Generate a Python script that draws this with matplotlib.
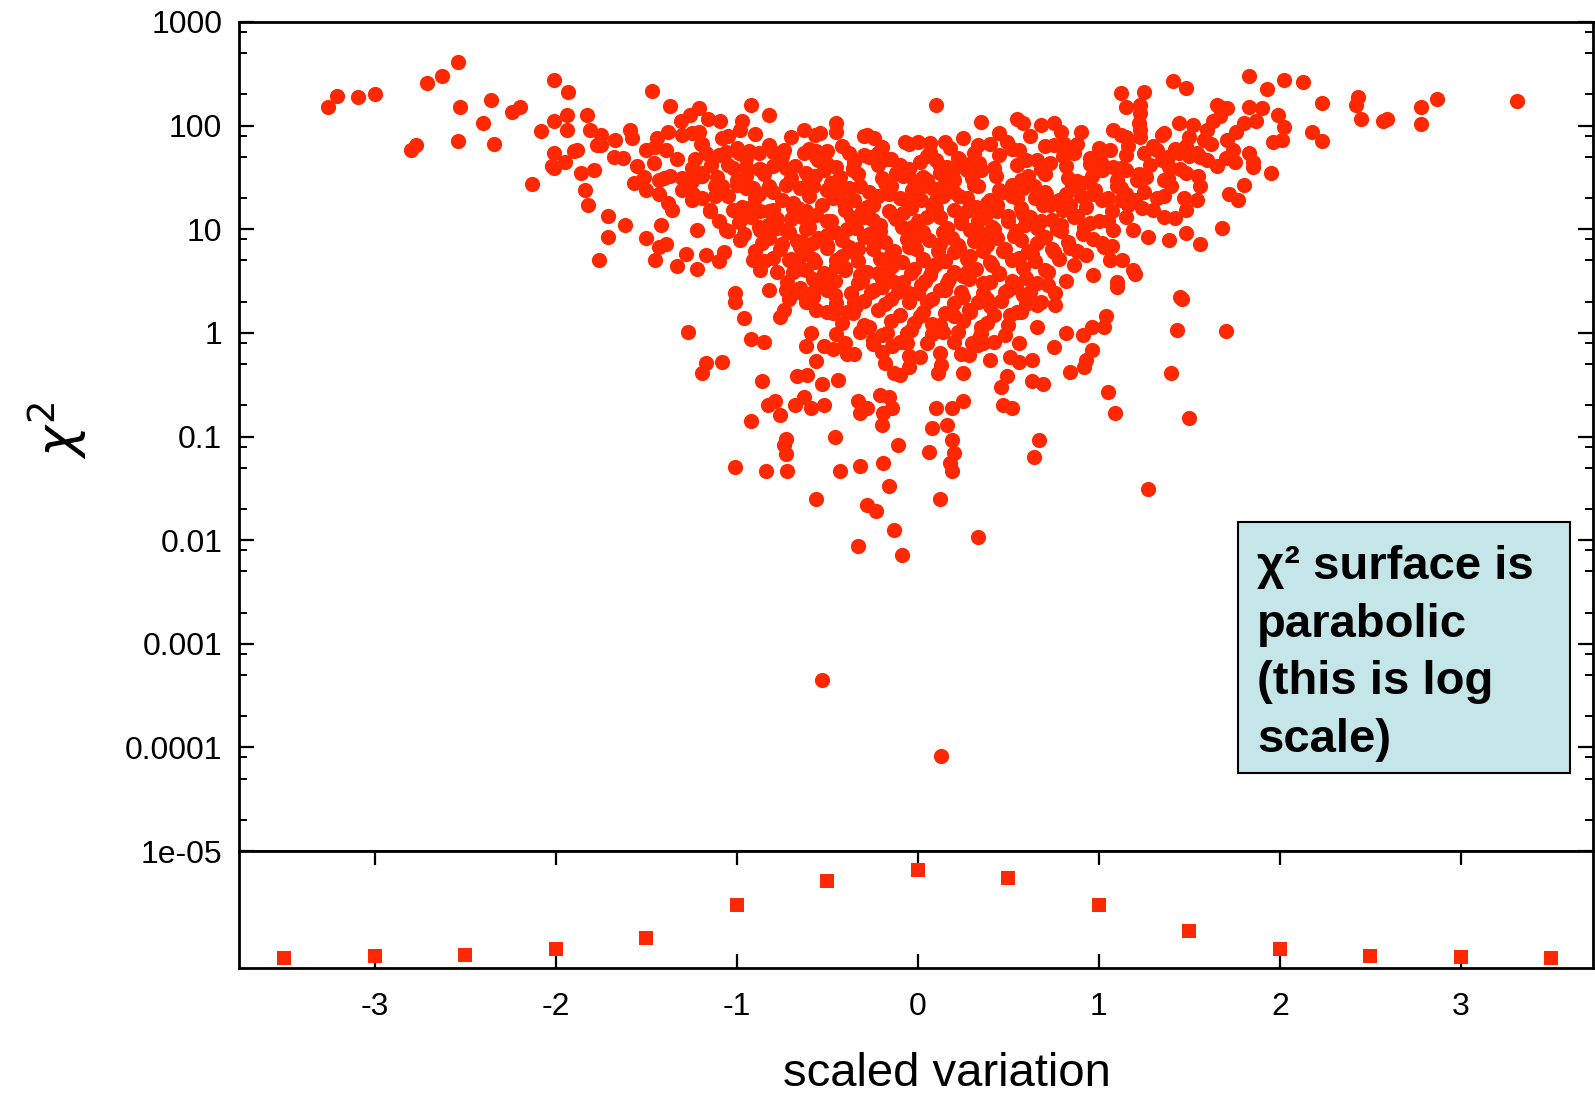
import matplotlib.pyplot as plt
import numpy as np
from matplotlib.patches import Rectangle
from matplotlib.ticker import FixedLocator, FixedFormatter, NullFormatter

plt.rcParams['font.family'] = ['Liberation Sans', 'DejaVu Sans']
plt.rcParams['axes.unicode_minus'] = False

# (scaled variation, chi2)
left_wing = [(-3.26, 152), (-3.21, 195), (-3.09, 187), (-3.00, 200), (-2.80, 58), (-2.77, 65),
             (-2.71, 260), (-2.63, 300), (-2.54, 410), (-2.53, 150), (-2.54, 71), (-2.40, 107),
             (-2.36, 178), (-2.34, 67), (-2.24, 135), (-2.20, 152), (-2.13, 27.5), (-2.08, 88),
             (-2.01, 275), (-1.93, 210), (-2.01, 112), (-1.94, 128), (-1.94, 91), (-2.01, 55),
             (-2.02, 41), (-2.01, 39), (-1.95, 45), (-1.90, 57), (-1.88, 58), (-1.83, 126),
             (-1.81, 91), (-1.86, 35), (-1.84, 24), (-1.82, 17), (-1.79, 37), (-1.76, 5.0),
             (-1.77, 65), (-1.47, 217), (-1.37, 154), (-1.75, 81), (-1.75, 65), (-1.67, 72),
             (-1.59, 91), (-1.58, 76), (-1.68, 50), (-1.63, 49), (-1.71, 13.5), (-1.62, 11),
             (-1.71, 8.5), (-1.50, 8.2), (-1.42, 11), (-1.43, 6.8), (-1.39, 7.2), (-1.45, 5.0),
             (-1.33, 4.4), (-1.28, 5.8), (-1.22, 4.1), (-1.17, 5.6), (-1.22, 9.8), (-1.15, 15),
             (-1.10, 4.9), (-1.07, 6.0), (-1.06, 9.8), (-1.01, 2.4), (-1.01, 2.0), (-0.96, 8.9),
             (-0.91, 5.0), (-0.87, 4.0), (-0.82, 2.6), (-0.99, 11.7)]

upper_left = [(-1.57, 28), (-1.51, 32), (-1.43, 30), (-1.37, 33), (-1.30, 31), (-1.25, 29),
              (-1.19, 33), (-1.50, 58), (-1.44, 76), (-1.38, 87), (-1.39, 58), (-1.46, 44),
              (-1.43, 22), (-1.38, 18), (-1.36, 15.4), (-1.50, 24), (-1.31, 112), (-1.26, 126),
              (-1.21, 147), (-1.16, 117), (-1.09, 112), (-1.08, 76), (-0.98, 91), (-0.97, 112),
              (-0.92, 158), (-0.82, 126), (-1.30, 81), (-1.21, 87), (-1.19, 67), (-1.23, 48),
              (-1.17, 54), (-1.14, 42), (-1.19, 35), (-1.11, 32), (-1.24, 22), (-1.19, 20),
              (-1.12, 21), (-1.06, 56), (-0.99, 55), (-0.93, 57), (-0.88, 54), (-0.80, 56),
              (-0.74, 58), (-0.63, 55), (-0.56, 57), (-1.02, 39), (-0.95, 40), (-0.87, 38),
              (-0.80, 41), (-0.73, 39), (-1.08, 26), (-1.00, 27), (-0.91, 25), (-0.82, 26),
              (-0.73, 27), (-0.65, 25), (-0.58, 26), (-1.02, 15.5), (-0.93, 16), (-0.87, 15),
              (-0.80, 15.5), (-0.69, 16), (-0.62, 15), (-0.87, 9.8), (-0.78, 10.2), (-0.71, 9.5),
              (-0.62, 10), (-0.86, 7.4), (-0.75, 7.2), (-0.64, 7.6), (-0.58, 7.3), (-0.80, 5.3),
              (-0.71, 5.1), (-0.65, 5.4), (-0.58, 5.2), (-0.69, 3.9), (-0.62, 4.0), (-0.73, 2.6),
              (-0.65, 2.7), (-0.58, 2.5), (-0.71, 2.1), (-0.62, 2.0), (-0.58, 2.2), (-0.63, 91),
              (-0.57, 81), (-0.56, 50)]

middle = [(0.10, 158), (-0.28, 81), (-0.24, 76), (-0.07, 69), (0.00, 70), (0.07, 68), (0.15, 69),
          (0.58, 105), (0.68, 102), (0.75, 105), (0.79, 87), (1.08, 91), (1.12, 81), (1.25, 213),
          (1.23, 158), (1.22, 105), (1.23, 78), (0.40, 67), (0.49, 70), (0.56, 58), (0.66, 47),
          (0.75, 65), (0.81, 67), (0.86, 54), (0.99, 50), (1.06, 58), (1.02, 37), (1.08, 40),
          (1.10, 26), (-0.38, 54), (-0.45, 40), (-0.52, 37), (-0.36, 37), (-0.27, 50), (-0.17, 48),
          (-0.12, 35), (-0.06, 37), (0.01, 45), (0.10, 47), (0.16, 40), (0.23, 48), (0.31, 54),
          (0.03, 32), (0.12, 35), (0.20, 30), (0.27, 37), (0.35, 37), (-0.54, 85), (-0.50, 57),
          (-0.43, 32), (-0.45, 105), (0.35, 108), (0.55, 115),
          (-0.50, 24), (-0.41, 18), (-0.32, 26), (-0.25, 17), (-0.16, 22), (-0.06, 19), (0.01, 25),
          (0.10, 16), (0.23, 21), (0.31, 27), (0.38, 18), (0.47, 23), (0.55, 20), (0.64, 26),
          (0.73, 17), (0.82, 22), (0.91, 28), (1.02, 19),
          (-0.48, 12), (-0.39, 10), (-0.30, 13), (-0.21, 11), (-0.12, 12.5), (-0.03, 10.5), (0.05, 13),
          (0.14, 9.5), (0.24, 11.5), (0.33, 12), (0.42, 10), (0.50, 13.5), (0.59, 11), (0.68, 12),
          (0.77, 10), (0.86, 13), (0.95, 11.5), (1.05, 12),
          (-0.50, 7), (-0.42, 5.5), (-0.33, 6.5), (-0.24, 7.5), (-0.15, 5.8), (-0.05, 6.8), (0.03, 5.2),
          (0.12, 7.2), (0.20, 6.0), (0.29, 5.5), (0.38, 7.0), (0.47, 6.2), (0.56, 5.3), (0.66, 7.3),
          (0.75, 6.0), (0.84, 6.6), (0.93, 5.6), (1.07, 6.9),
          (-0.49, 3.5), (-0.40, 4.0), (-0.31, 3.2), (-0.22, 3.8), (-0.13, 3.1), (-0.02, 4.1), (0.07, 3.6),
          (0.17, 3.3), (0.27, 3.9), (0.36, 3.0), (0.45, 3.7), (0.60, 3.4), (0.70, 4.0), (0.82, 3.2),
          (0.97, 3.6), (1.10, 3.1),
          (-0.46, 2.3), (-0.35, 2.0), (-0.26, 2.5), (-0.15, 2.1), (-0.05, 2.4), (0.05, 2.0), (0.15, 2.6),
          (0.25, 2.2), (0.38, 2.1), (0.48, 2.5), (0.58, 2.3), (0.68, 2.0), (0.76, 2.4)]

core = [(-1.25, 84), (-1.05, 79), (-0.90, 83), (-0.70, 78), (-0.45, 86), (-0.30, 80), (0.25, 76),
        (0.45, 84), (0.62, 79), (0.90, 86), (1.35, 82), (1.50, 77),
        (-1.45, 62), (-1.20, 66), (-1.00, 61), (-0.82, 65), (-0.60, 60), (-0.42, 64), (-0.20, 62),
        (-0.05, 66), (0.18, 61), (0.33, 65), (0.52, 60), (0.70, 63), (0.88, 66), (1.00, 61),
        (1.30, 64), (1.42, 60), (1.62, 66),
        (-1.33, 48), (-1.10, 52), (-0.95, 49), (-0.75, 51), (-0.55, 47), (-0.30, 52), (-0.15, 48),
        (0.05, 51), (0.22, 49), (0.45, 52), (0.60, 47), (0.80, 51), (0.95, 49), (1.15, 52),
        (1.35, 47), (1.50, 51), (1.70, 49), (1.85, 45),
        (-1.55, 41), (-1.25, 39), (-1.05, 42), (-0.88, 38), (-0.68, 41), (-0.50, 43), (-0.36, 39),
        (-0.22, 42), (-0.05, 38), (0.12, 41), (0.28, 43), (0.42, 39), (0.55, 42), (0.68, 38),
        (0.82, 41), (0.95, 43), (1.12, 39), (1.28, 42), (1.45, 38), (1.65, 41),
        (-1.40, 31), (-1.20, 33), (-1.00, 30), (-0.85, 34), (-0.70, 31), (-0.57, 33), (-0.44, 30),
        (-0.33, 34), (-0.20, 31), (-0.08, 33), (0.05, 30), (0.17, 34), (0.30, 31), (0.43, 33),
        (0.57, 30), (0.70, 34), (0.83, 31), (0.96, 33), (1.10, 30), (1.22, 34), (1.38, 31), (1.55, 33),
        (-1.30, 24), (-1.12, 26), (-0.95, 25), (-0.80, 23), (-0.62, 26), (-0.50, 24), (-0.38, 25),
        (-0.27, 23), (-0.15, 26), (-0.03, 24), (0.08, 25), (0.20, 23), (0.33, 26), (0.45, 24),
        (0.58, 25), (0.70, 23), (0.85, 26), (0.98, 24), (1.12, 25), (1.25, 23), (1.40, 26),
        (-1.25, 19), (-1.05, 21), (-0.90, 20), (-0.75, 19), (-0.60, 21), (-0.47, 20), (-0.35, 19),
        (-0.22, 21), (-0.10, 20), (0.02, 19), (0.14, 21), (0.27, 20), (0.40, 19), (0.52, 21),
        (0.65, 20), (0.78, 19), (0.90, 21), (1.05, 20), (1.20, 19), (1.36, 21),
        (-1.15, 15.5), (-0.97, 16.5), (-0.82, 15), (-0.66, 16), (-0.53, 17), (-0.40, 15.5),
        (-0.28, 16.5), (-0.16, 15), (-0.04, 16), (0.08, 17), (0.20, 15.5), (0.32, 16.5), (0.44, 15),
        (0.57, 16), (0.69, 17), (0.80, 15.5), (0.93, 16.5), (1.07, 15), (1.24, 16),
        (-1.10, 12), (-0.92, 13), (-0.78, 12.5), (-0.64, 13.2), (-0.50, 12), (-0.37, 13), (-0.25, 12.2),
        (-0.13, 13.4), (0.00, 12), (0.12, 13), (0.24, 12.4), (0.37, 13.2), (0.50, 12), (0.62, 13),
        (0.74, 12.3), (0.88, 13.3), (1.00, 12), (1.15, 13),
        (-1.05, 9.6), (-0.88, 10.4), (-0.73, 9.8), (-0.60, 10.5), (-0.46, 9.5), (-0.34, 10.3),
        (-0.21, 9.7), (-0.09, 10.6), (0.03, 9.5), (0.16, 10.2), (0.29, 9.8), (0.41, 10.5), (0.54, 9.6),
        (0.66, 10.3), (0.79, 9.7), (0.92, 10.4), (1.08, 9.8),
        (-0.98, 7.8), (-0.82, 8.3), (-0.67, 7.7), (-0.55, 8.2), (-0.42, 7.9), (-0.30, 8.4), (-0.18, 7.6),
        (-0.06, 8.1), (0.06, 7.8), (0.19, 8.3), (0.31, 7.7), (0.44, 8.2), (0.57, 7.9), (0.70, 8.4),
        (0.83, 7.6), (0.97, 8.1),
        (-0.90, 6.2), (-0.76, 6.5), (-0.62, 6.1), (-0.50, 6.6), (-0.37, 6.2), (-0.25, 6.4), (-0.13, 6.1),
        (-0.01, 6.5), (0.11, 6.2), (0.23, 6.6), (0.36, 6.1), (0.48, 6.4), (0.61, 6.2), (0.74, 6.5),
        (0.88, 6.1),
        (-0.85, 4.9), (-0.70, 5.2), (-0.57, 4.8), (-0.45, 5.1), (-0.33, 4.9), (-0.21, 5.2), (-0.09, 4.8),
        (0.03, 5.1), (0.15, 4.9), (0.27, 5.2), (0.40, 4.8), (0.52, 5.1), (0.65, 4.9), (0.78, 5.2),
        (-0.78, 3.9), (-0.64, 4.1), (-0.52, 3.8), (-0.40, 4.2), (-0.28, 3.9), (-0.16, 4.1), (-0.04, 3.8),
        (0.08, 4.2), (0.20, 3.9), (0.32, 4.1), (0.45, 3.8), (0.58, 4.2), (0.72, 3.9),
        (-0.72, 3.1), (-0.58, 3.3), (-0.46, 3.2), (-0.33, 3.0), (-0.20, 3.3), (-0.08, 3.1), (0.04, 3.2),
        (0.16, 3.0), (0.28, 3.3), (0.40, 3.1), (0.52, 3.2), (0.66, 3.0),
        (-0.66, 2.5), (-0.50, 2.6), (-0.37, 2.4), (-0.24, 2.6), (-0.11, 2.5), (0.00, 2.4), (0.12, 2.6),
        (0.24, 2.5), (0.36, 2.4), (0.50, 2.6), (0.62, 2.5),
        (-0.60, 2.0), (-0.45, 1.95), (-0.30, 2.05), (-0.18, 1.9), (-0.05, 2.0), (0.08, 2.1), (0.20, 1.95),
        (0.33, 2.0), (0.46, 2.05), (0.60, 1.9),
        (-0.50, 1.6), (-0.36, 1.55), (-0.22, 1.65), (-0.10, 1.5), (0.03, 1.6), (0.15, 1.55), (0.28, 1.65),
        (0.42, 1.5), (0.55, 1.6),
        (-0.42, 1.25), (-0.30, 1.2), (-0.15, 1.3), (-0.02, 1.25), (0.12, 1.2), (0.25, 1.3), (0.38, 1.25),
        (0.50, 1.2),
        (-0.45, 0.98), (-0.32, 1.02), (-0.20, 0.96), (-0.06, 1.0), (0.08, 0.97), (0.22, 1.03), (0.35, 0.99),
        (0.48, 0.95),
        (-0.40, 0.8), (-0.25, 0.78), (-0.10, 0.82), (0.05, 0.79), (0.20, 0.81), (0.33, 0.77),
        (-0.35, 0.62), (-0.20, 0.65), (-0.05, 0.60), (0.12, 0.64), (0.28, 0.61)]

core_fill = [(0.34, 44), (0.52, 27), (0.61, 33), (0.73, 44), (0.88, 29), (1.01, 45), (0.44, 17),
             (0.58, 14), (0.71, 22), (0.84, 17), (0.97, 22), (1.12, 19), (0.36, 8.9), (0.53, 8.7),
             (0.79, 11), (0.91, 9), (1.02, 7.3), (0.63, 5.8), (0.41, 4.5), (0.86, 4.5), (0.72, 2.9),
             (0.54, 2.8), (-0.95, 33), (-0.77, 45), (-0.62, 35), (-0.48, 28), (-0.35, 45), (-0.88, 22),
             (-0.69, 18), (-0.56, 13.8), (-0.43, 22), (-0.31, 15), (-0.96, 13), (-0.83, 11), (-0.70, 12.5),
             (-0.50, 8.8), (-0.38, 6.8), (-0.27, 8.9), (-0.65, 6.8), (-0.45, 4.4), (-0.32, 3.6), (-0.55, 2.9),
             (-0.22, 55), (-0.10, 42), (0.07, 56), (0.20, 38), (-0.18, 28), (-0.02, 29), (0.14, 26),
             (0.27, 15), (-0.08, 14.5), (0.10, 19), (-0.23, 9), (0.00, 8.7), (0.22, 7), (-0.14, 4.4),
             (0.10, 4.6), (0.25, 3.5), (-0.20, 2.8), (0.02, 2.9)]

right_wing = [(1.41, 270), (1.48, 232), (1.83, 300), (1.93, 224), (2.02, 275), (2.13, 262), (2.23, 166),
              (2.43, 187), (2.42, 158), (2.45, 116), (2.57, 112), (2.59, 117), (2.78, 151), (2.78, 103),
              (2.87, 182), (3.31, 174), (2.18, 86), (2.23, 71), (1.12, 205), (1.15, 151), (1.23, 131),
              (1.23, 91), (1.15, 78), (1.16, 63), (1.65, 158), (1.71, 147), (1.67, 123), (1.83, 151),
              (1.90, 147), (1.87, 110), (1.99, 126), (2.02, 98), (1.96, 69), (2.01, 72), (1.80, 105),
              (1.76, 87), (1.71, 72), (1.74, 58), (1.75, 45), (1.83, 54), (1.85, 40), (1.95, 35),
              (1.80, 27), (1.72, 22), (1.77, 19), (1.68, 10.2), (1.56, 7.2), (1.48, 9.3), (1.39, 7.8),
              (1.45, 2.2), (1.19, 4.0), (1.13, 5.0), (1.19, 9.8), (1.27, 8.5), (1.32, 20), (1.30, 15.4),
              (1.36, 13.2), (1.42, 12.7), (1.48, 15.4), (1.54, 19), (1.56, 26), (1.47, 20), (1.26, 32),
              (1.36, 30), (1.48, 35), (1.39, 40), (1.56, 50), (1.60, 47), (1.25, 54), (1.32, 58),
              (1.38, 50), (1.44, 54), (1.48, 63), (1.54, 54), (1.58, 72), (1.36, 85), (1.44, 105),
              (1.52, 102), (1.60, 91), (1.63, 112), (1.67, 151), (1.15, 37), (1.21, 30), (1.15, 22),
              (1.16, 17), (1.70, 1.05), (1.20, 3.7), (1.10, 2.8), (1.06, 5.0), (1.03, 6.8), (1.46, 2.1)]

lower_tail = [(-1.27, 1.02), (-1.17, 0.51), (-1.19, 0.41), (-1.08, 0.52), (-0.96, 1.4), (-0.92, 0.87),
              (-0.85, 0.82), (-0.86, 0.34), (-0.83, 0.20), (-0.79, 0.22), (-0.76, 0.16), (-0.92, 0.14),
              (-0.73, 0.095), (-0.74, 0.083), (-0.73, 0.068), (-1.01, 0.051), (-0.84, 0.046),
              (-0.72, 0.046), (-0.56, 0.025), (-0.67, 0.38), (-0.61, 0.39), (-0.53, 0.32), (-0.44, 0.35),
              (-0.68, 0.20), (-0.63, 0.24), (-0.59, 0.19), (-0.52, 0.20), (-0.46, 0.10), (-0.43, 0.046),
              (-0.32, 0.052), (-0.19, 0.055), (-0.16, 0.033), (-0.28, 0.022), (-0.23, 0.019),
              (-0.13, 0.0126), (-0.33, 0.22), (-0.28, 0.19), (-0.32, 0.17), (-0.21, 0.25), (-0.16, 0.24),
              (-0.19, 0.17), (-0.20, 0.13), (-0.14, 0.19), (-0.11, 0.083), (-0.62, 0.74), (-0.59, 1.0),
              (-0.56, 0.53), (-0.52, 0.74), (-0.47, 0.70), (-0.39, 0.63), (-0.47, 1.55), (-0.39, 1.6),
              (-0.34, 1.8), (-0.56, 1.65), (-0.76, 1.43), (-0.74, 1.65), (-0.27, 1.15), (-0.25, 0.85),
              (-0.17, 1.0), (-0.14, 0.74), (-0.18, 0.51), (-0.13, 0.41),
              (0.66, 1.15), (0.82, 1.0), (0.91, 0.96), (0.96, 1.15), (1.04, 1.44), (1.03, 1.15),
              (0.56, 0.79), (0.75, 0.73), (0.96, 0.69), (0.93, 0.55), (0.92, 0.47), (0.84, 0.42),
              (1.43, 1.07), (1.40, 0.41), (1.05, 0.27), (1.09, 0.17), (1.50, 0.15), (1.27, 0.031),
              (0.67, 0.093), (0.64, 0.063), (0.63, 0.34), (0.69, 0.32), (0.46, 0.30), (0.49, 0.38),
              (0.47, 0.20), (0.52, 0.19), (0.51, 0.59), (0.56, 0.52), (0.63, 0.55), (0.40, 0.55),
              (0.36, 0.79), (0.42, 0.82), (0.10, 0.19), (0.19, 0.19), (0.25, 0.22), (0.08, 0.12),
              (0.16, 0.13), (0.19, 0.093), (0.06, 0.071), (0.20, 0.069), (0.18, 0.055), (0.19, 0.046),
              (0.12, 0.025), (0.33, 0.0107), (0.11, 0.41), (0.25, 0.41), (0.13, 0.49), (0.24, 0.62),
              (0.35, 1.15), (0.29, 1.6), (0.20, 1.44), (0.14, 1.02), (0.08, 1.23), (0.01, 1.44),
              (-0.04, 1.07), (-0.06, 0.79), (0.01, 0.59), (-0.05, 0.47), (-0.10, 0.39), (0.40, 1.8),
              (0.51, 1.48), (0.57, 1.6), (0.66, 1.86), (0.76, 1.86), (0.34, 0.89), (0.30, 0.79),
              (-0.53, 0.00045), (0.13, 8.3e-5), (-0.33, 0.0087), (-0.09, 0.0072)]

# lower panel: binned distribution of the scan (relative height)
bin_x = [-3.5, -3.0, -2.5, -2.0, -1.5, -1.0, -0.5, 0.0, 0.5, 1.0, 1.5, 2.0, 2.5, 3.0, 3.5]
bin_h = [0.087, 0.104, 0.113, 0.165, 0.26, 0.54, 0.74, 0.84, 0.77, 0.54, 0.32, 0.165, 0.104, 0.096, 0.087]

y_ticks = [1e-5, 1e-4, 1e-3, 1e-2, 1e-1, 1, 10, 100, 1000]
y_labels = ['1e-05', '0.0001', '0.001', '0.01', '0.1', '1', '10', '100', '1000']
x_ticks = [-3, -2, -1, 0, 1, 2, 3]

red = '#ff2800'
pts = left_wing + upper_left + middle + core + core_fill + right_wing + lower_tail
xs = np.array([p[0] for p in pts])
ys = np.array([p[1] for p in pts])

fig = plt.figure(figsize=(15.95, 10.94), dpi=100)
ax = fig.add_axes([0.1498, 0.2221, 0.849, 0.7578])
ax2 = fig.add_axes([0.1498, 0.1152, 0.849, 0.1069])

ax.scatter(xs, ys, s=120, c=red, linewidths=0, zorder=2)
ax.set_yscale('log')
ax.set_ylim(1e-5, 1000)
ax.set_xlim(-3.75, 3.73)
ax.yaxis.set_major_locator(FixedLocator(y_ticks))
ax.yaxis.set_major_formatter(FixedFormatter(y_labels))
minors = [m * 10.0 ** k for k in range(-5, 3) for m in (2, 5, 8)]
ax.yaxis.set_minor_locator(FixedLocator(minors))
ax.yaxis.set_minor_formatter(NullFormatter())
ax.set_xticks([])
ax.tick_params(axis='y', which='major', direction='in', left=True, right=True,
               length=11, width=1.6, labelsize=23, pad=12)
ax.tick_params(axis='y', which='minor', direction='in', left=True, right=True,
               length=5.5, width=1.4)
for s in ax.spines.values():
    s.set_linewidth(2)

ax.add_patch(Rectangle((0.738, 0.094), 0.245, 0.303, transform=ax.transAxes,
                       facecolor='#c5e6e8', edgecolor='black', linewidth=1.5, zorder=3))
ax.text(0.752, 0.369, 'χ² surface is\nparabolic\n(this is log\nscale)', transform=ax.transAxes,
        fontsize=34, fontweight='bold', va='top', ha='left', linespacing=1.4, zorder=4)

ax2.plot(bin_x, bin_h, 's', color=red, markersize=10.5, markeredgewidth=0)
ax2.set_xlim(-3.75, 3.73)
ax2.set_ylim(0, 1)
ax2.set_yticks([])
ax2.set_xticks(x_ticks)
ax2.set_xticklabels([str(v) for v in x_ticks])
ax2.tick_params(axis='x', direction='in', top=True, bottom=True, length=10, width=1.6,
                labelsize=23, pad=17)
for s in ax2.spines.values():
    s.set_linewidth(2)

fig.text(0.594, 0.018, 'scaled variation', fontsize=34, ha='center', va='center')
fig.text(0.036, 0.607, r'$\chi^2$', fontsize=38, rotation=90, ha='center', va='center')

fig.savefig('out.png', dpi=100)
